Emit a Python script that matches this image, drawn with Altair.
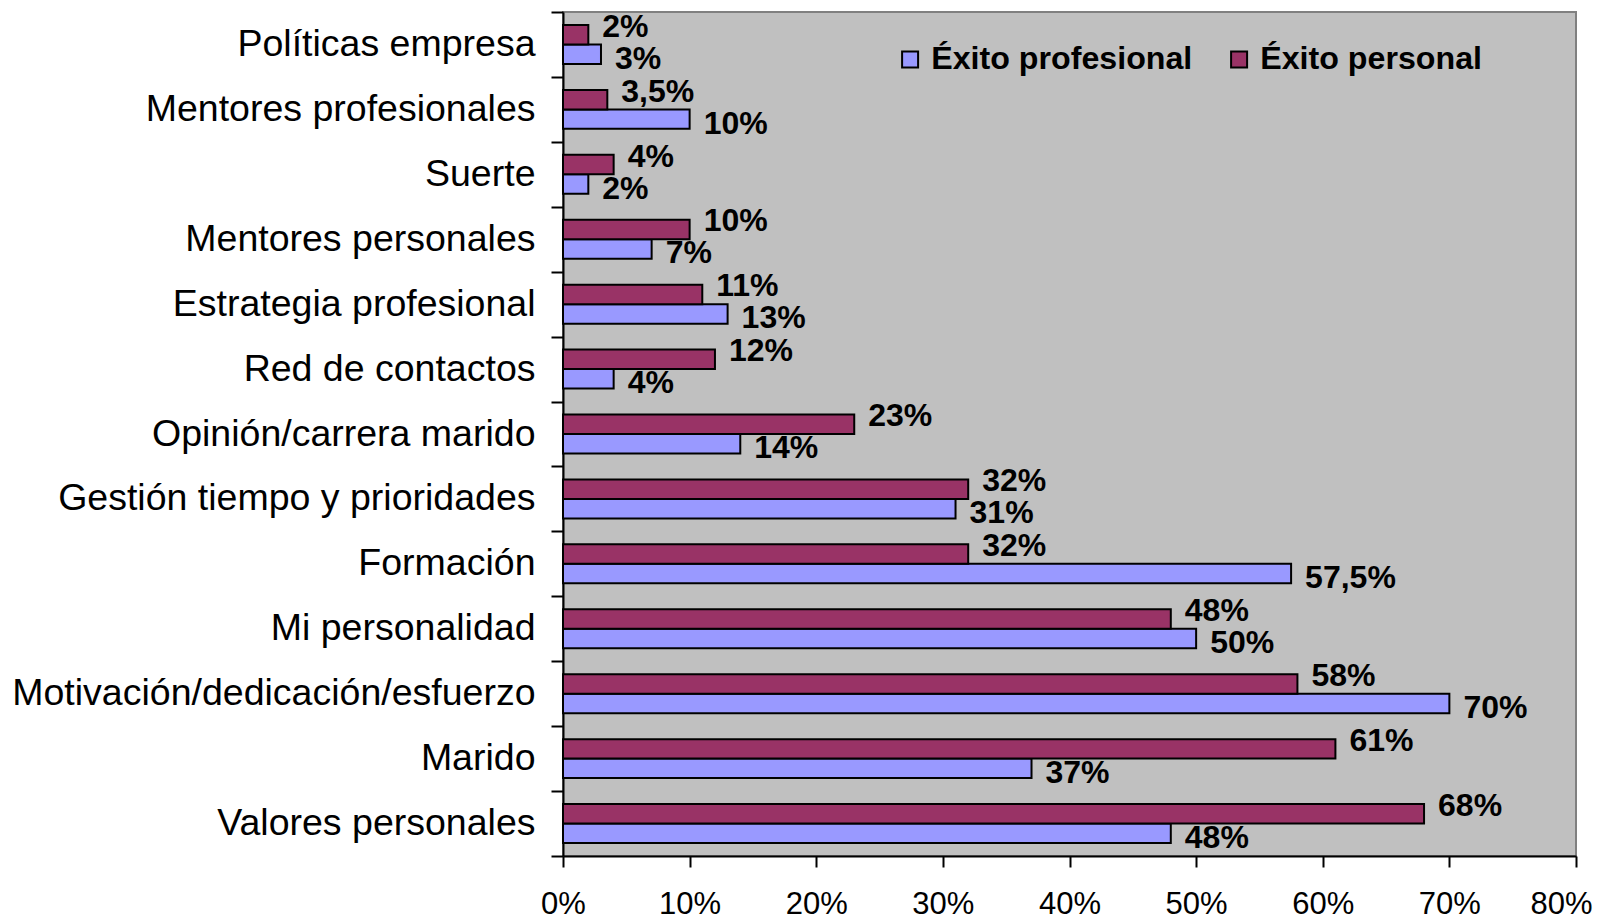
import altair as alt
import pandas as pd

categories = [
    "Políticas empresa",
    "Mentores profesionales",
    "Suerte",
    "Mentores personales",
    "Estrategia profesional",
    "Red de contactos",
    "Opinión/carrera marido",
    "Gestión tiempo y prioridades",
    "Formación",
    "Mi personalidad",
    "Motivación/dedicación/esfuerzo",
    "Marido",
    "Valores personales",
]
exito_profesional = [3, 10, 2, 7, 13, 4, 14, 31, 57.5, 50, 70, 37, 48]
exito_personal = [2, 3.5, 4, 10, 11, 12, 23, 32, 32, 48, 58, 61, 68]
series_names = ["Éxito profesional", "Éxito personal"]
series_colors = ["#9999FF", "#993366"]
x_ticks = [0, 10, 20, 30, 40, 50, 60, 70, 80]

rows = []
for cat, vp, vq in zip(categories, exito_profesional, exito_personal):
    rows.append({"categoria": cat, "serie": series_names[0], "valor": vp})
    rows.append({"categoria": cat, "serie": series_names[1], "valor": vq})
df = pd.DataFrame(rows)
df["etiqueta"] = df["valor"].map(lambda v: f"{v:g}".replace(".", ",") + "%")

FONT = "Liberation Sans"

y_enc = alt.Y(
    "categoria:N",
    sort=categories,
    scale=alt.Scale(paddingInner=0, paddingOuter=0),
    axis=alt.Axis(
        title=None,
        labelFont=FONT,
        labelFontSize=37.5,
        labelColor="black",
        labelPadding=16,
        labelLimit=700,
        tickBand="extent",
        tickSize=12,
        tickColor="black",
        tickWidth=2,
        domainColor="black",
        domainWidth=2,
    ),
)
yoff_enc = alt.YOffset(
    "serie:N",
    sort=[series_names[1], series_names[0]],
    scale=alt.Scale(paddingInner=0, paddingOuter=0.667),
)
x_enc = alt.X(
    "valor:Q",
    scale=alt.Scale(domain=[0, 80], nice=False),
    axis=alt.Axis(
        values=x_ticks,
        title=None,
        grid=False,
        labelFlush=False,
        labelExpr="datum.value + '%'",
        labelFont=FONT,
        labelFontSize=31,
        labelColor="black",
        labelPadding=22,
        labelOffset={"condition": {"test": "datum.value == 80", "value": -15}, "value": 0},
        tickSize=11,
        tickColor="black",
        tickWidth=2,
        domainColor="black",
        domainWidth=2,
    ),
)

base = alt.Chart(df)

bars = base.mark_bar(stroke="black", strokeWidth=2, opacity=1).encode(
    x=x_enc,
    y=y_enc,
    yOffset=yoff_enc,
    color=alt.Color(
        "serie:N",
        scale=alt.Scale(domain=series_names, range=series_colors),
        legend=alt.Legend(
            orient="none",
            legendX=331,
            legendY=31,
            direction="horizontal",
            title=None,
            symbolType="square",
            symbolSize=256,
            symbolStrokeColor="black",
            symbolStrokeWidth=2,
            symbolOpacity=1,
            labelFont=FONT,
            labelFontWeight="bold",
            labelFontSize=32.2,
            labelColor="black",
            labelOffset=5,
            columnPadding=30,
            padding=0,
            labelLimit=600,
        ),
    ),
)

text_common = dict(
    align="left",
    baseline="middle",
    dx=14,
    font=FONT,
    fontWeight="bold",
    fontSize=32,
    color="black",
)

labels_personal = (
    base.transform_filter(alt.datum.serie == series_names[1])
    .mark_text(dy=-8, **text_common)
    .encode(x="valor:Q", y=alt.Y("categoria:N", sort=categories), yOffset=yoff_enc, text="etiqueta:N")
)
labels_prof = (
    base.transform_filter(alt.datum.serie == series_names[0])
    .mark_text(dy=4.5, **text_common)
    .encode(x="valor:Q", y=alt.Y("categoria:N", sort=categories), yOffset=yoff_enc, text="etiqueta:N")
)

chart = (
    alt.layer(bars, labels_personal, labels_prof)
    .properties(
        width=1013,
        height=844,
        autosize=alt.AutoSizeParams(type="none"),
        padding={"left": 555, "top": 4, "right": 30, "bottom": 66},
        background="white",
    )
    .configure_view(fill="#C0C0C0", stroke="#808080", strokeWidth=2)
)

chart.save("out.html", embed_options={"renderer": "svg", "actions": False})
